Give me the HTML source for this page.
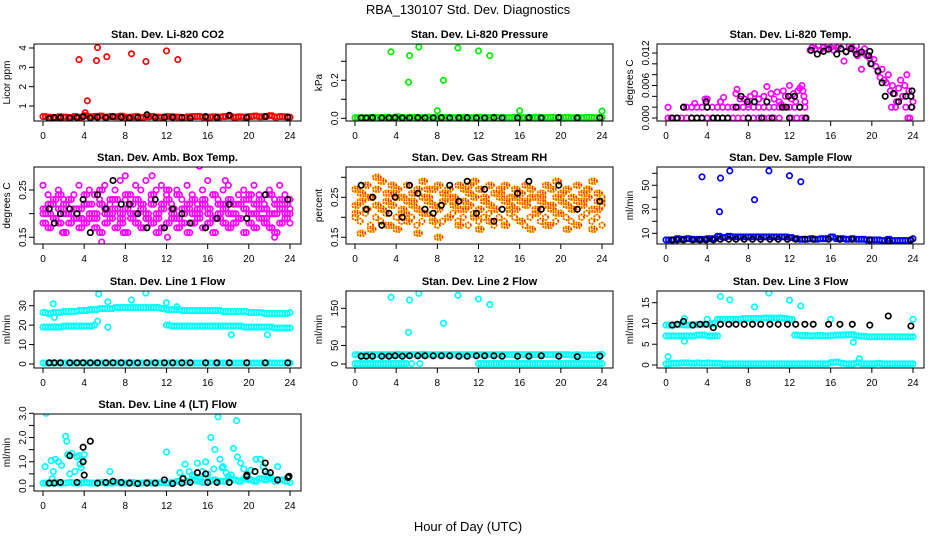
<!DOCTYPE html>
<html><head><meta charset="utf-8">
<style>
html,body{margin:0;padding:0;background:#fff;}
svg{display:block;font-family:"Liberation Sans",Arial,sans-serif;}
</style></head>
<body>
<svg id="chart" width="936" height="540" viewBox="0 0 936 540" xmlns="http://www.w3.org/2000/svg">
<text x="468" y="14" text-anchor="middle" font-size="13">RBA_130107  Std. Dev. Diagnostics</text>
<text x="468" y="531" text-anchor="middle" font-size="13">Hour of Day (UTC)</text>
</svg>
<script>
// ---------- shared hours ----------
const H49 = [0,0.5,1,1.5,2,2.5,3,3.5,4,4.5,5,5.5,6,6.5,7,7.5,8,8.5,9,9.5,10,10.5,11,11.5,12,12.5,13,13.5,14,14.5,15,15.5,16,16.5,17,17.5,18,18.5,19,19.5,20,20.5,21,21.5,22,22.5,23,23.5,24];
const H48m = [0.25,0.75,1.25,1.75,2.25,2.75,3.25,3.75,4.25,4.75,5.25,5.75,6.25,6.75,7.25,7.75,8.25,8.75,9.25,9.75,10.25,10.75,11.25,11.75,12.25,12.75,13.25,13.75,14.25,14.75,15.25,15.75,16.25,16.75,17.25,17.75,18.25,18.75,19.25,19.75,20.25,20.75,21.25,21.75,22.25,22.75,23.25,23.75];
const H25 = [0.6,1.1,1.7,2.6,3.3,3.9,4.6,5.3,6.1,6.8,7.6,8.4,9.2,10.1,10.9,11.8,12.6,13.5,14.3,15.8,16.9,18.1,19.8,21.6,23.8];
const HA = [0,0.5,1,1.5,2,2.5,3,3.5,4,4.5,5];
const HA2 = [0.25,0.75,1.25,1.75,2.25,2.75,3.25,3.75,4.25,4.75];
const HB = [12,12.5,13,13.5,14,14.5,15,15.5,16,16.5,17,17.5,18,18.5,19,19.5,20,20.5,21,21.5,22,22.5,23,23.5,24];
const HB2 = [12.25,12.75,13.25,13.75,14.25,14.75,15.25,15.75,16.25,16.75,17.25,17.75,18.25,18.75,19.25,19.75,20.25,20.75,21.25,21.75,22.25,22.75,23.25,23.75];
const xTicks = [0,4,8,12,16,20,24];

// ---------- panel 1: CO2 ----------
const co2Red = [0.45,0.42,0.4,0.44,0.43,0.41,0.45,0.42,0.5,0.44,0.46,0.48,0.43,0.45,0.44,0.47,0.42,0.43,0.45,0.41,0.44,0.46,0.43,0.42,0.45,0.44,0.43,0.41,0.44,0.45,0.46,0.43,0.42,0.44,0.43,0.45,0.47,0.42,0.44,0.43,0.45,0.48,0.44,0.46,0.5,0.43,0.45,0.44,0.42];
const co2OutX = [3.5,4.1,4.3,5.2,5.3,6.2,8.6,10,12,13.1];
const co2OutY = [3.4,0.65,1.27,3.35,4.02,3.55,3.7,3.3,3.85,3.4];
const co2Black = [0.35,0.4,0.4,0.38,0.4,0.45,0.38,0.42,0.4,0.45,0.42,0.38,0.4,0.55,0.4,0.42,0.42,0.4,0.38,0.45,0.4,0.52,0.4,0.45,0.42];
// ---------- panel 2: pressure ----------
const presGreen = [0.003,0.004,0.002,0.005,0.003,0.004,0.006,0.003,0.008,0.004,0.003,0.005,0.004,0.003,0.006,0.004,0.003,0.005,0.004,0.003,0.004,0.005,0.003,0.004,0.006,0.003,0.004,0.005,0.003,0.004,0.003,0.005,0.004,0.003,0.004,0.006,0.003,0.004,0.005,0.003,0.004,0.005,0.003,0.004,0.003,0.005,0.004,0.003,0.004];
const presOutX = [3.5,5.2,5.3,6.2,8,8.6,10,12,13.1,16,24];
const presOutY = [0.35,0.19,0.33,0.375,0.04,0.2,0.37,0.355,0.33,0.04,0.038];
const presBlack = [0.002,0.002,0.003,0.002,0.002,0.003,0.002,0.002,0.003,0.002,0.002,0.003,0.002,0.002,0.003,0.002,0.002,0.003,0.002,0.002,0.003,0.002,0.004,0.002,0.002];
// ---------- panel 3: Li-820 temp ----------
const tempZeroX = [0.2,0.5,1,1.5,2,2.5,3,3.5,4,4.5,5,5.5,6,6.5,7,7.5,8,8.5,9,9.5,10,10.5,11,12.2,12.7,13.2,13.5];
const tempZeroY = [0,0,0,0,0,0,0,0,0,0,0,0,0,0,0,0,0,0,0,0,0,0,0,0,0,0,0];
const tempTwoX = [1.7,2,2.5,3,3.5,4,4.5,5,5.5,6,6.5,7,7.5,8,8.5,9,9.5,10,10.5,11,11.5,12,12.5,13,13.5];
const tempTwoY = [0.002,0.002,0.002,0.002,0.002,0.002,0.002,0.002,0.002,0.002,0.002,0.002,0.002,0.002,0.002,0.002,0.002,0.002,0.002,0.002,0.002,0.002,0.002,0.002,0.002];
const tempMagX = [0.2,2.8,3.8,4,5.3,5.6,6.8,6.9,7.2,7.6,8.2,8.6,9,9.5,9.8,10.2,10.5,10.8,11,11.4,11.6,12,12.2,12.4,12.8,13,13.2,13.4,13.5,13.3,12.6,11.2,8,14,14.2,14.5,14.8,15,15.3,15.6,15.8,16,16.3,16.6,16.8,17,17.3,17.5,17.8,18,18.3,18.5,18.6,18.8,19,19.2,19.3,19.5,19.8,20,20.2,20.4,20.6,20.8,21,21.2,21.4,21.6,21.8,22,22.2,22.4,22.6,22.8,23,23.2,23.4,23.6,23.8,24,23.5,23.7,21.9,22.3,23.3,23.9];
const tempMagY = [0.002,0.0027,0.0035,0.0035,0.003,0.0038,0.0045,0.0053,0.0035,0.0035,0.004,0.0045,0.0035,0.004,0.0058,0.0045,0.0035,0.0048,0.003,0.005,0.004,0.006,0.0035,0.0045,0.005,0.0055,0.006,0.004,0.003,0.005,0.003,0.0025,0.0025,0.0125,0.013,0.0128,0.0133,0.0125,0.013,0.0128,0.0133,0.013,0.0125,0.013,0.0133,0.0128,0.0105,0.0123,0.0133,0.013,0.0125,0.0133,0.0115,0.012,0.009,0.012,0.0128,0.0115,0.011,0.01,0.0108,0.0095,0.0085,0.0075,0.009,0.007,0.0065,0.008,0.005,0.006,0.0045,0.003,0.0055,0.007,0.004,0.006,0.008,0.005,0.004,0.003,0,0,0.002,0.002,0.002,0.002];
const tempBlkX = [0.6,1.1,1.7,2.5,3,3.5,3.9,4,4.6,5,5.5,6,6.8,7.3,7.9,8,8.6,9.3,9.8,10.3,11.3,11.7,11.9,12,12.5,13,13.6,14.1,14.7,15.3,15.8,16.6,17,17.5,18,18.5,19,19.7,19.8,19.9,20.6,21,21.3,22.1,22.6,23.3,23.8,23.9,23.85];
const tempBlkY = [0,0,0.002,0,0,0,0.003,0.002,0,0,0,0,0.002,0.004,0.003,0,0.003,0,0.003,0,0.002,0.002,0.004,0,0.004,0.002,0,0.0125,0.0118,0.0123,0.0127,0.0118,0.0128,0.0122,0.0128,0.0118,0.0122,0.0115,0.0123,0.01,0.0087,0.0065,0.004,0.0045,0.003,0.004,0.004,0.005,0.002];
// ---------- panel 4: amb box temp ----------
const ambA = [0.26,0.24,0.22,0.25,0.23,0.21,0.24,0.26,0.22,0.25,0.24,0.23,0.26,0.22,0.25,0.27,0.23,0.24,0.26,0.25,0.27,0.23,0.25,0.26,0.24,0.22,0.25,0.23,0.26,0.24,0.22,0.25,0.27,0.24,0.23,0.25,0.26,0.22,0.24,0.25,0.23,0.26,0.24,0.22,0.25,0.23,0.26,0.24,0.23];
const ambB = [0.2,0.22,0.19,0.21,0.2,0.23,0.19,0.21,0.22,0.2,0.19,0.22,0.21,0.2,0.23,0.19,0.21,0.22,0.2,0.21,0.19,0.22,0.2,0.21,0.23,0.2,0.19,0.21,0.22,0.2,0.21,0.23,0.2,0.19,0.22,0.21,0.2,0.22,0.19,0.21,0.2,0.22,0.21,0.19,0.2,0.22,0.21,0.2,0.21];
const ambC = [0.18,0.17,0.19,0.18,0.16,0.18,0.19,0.17,0.18,0.19,0.17,0.16,0.18,0.19,0.17,0.18,0.16,0.19,0.18,0.17,0.19,0.18,0.16,0.17,0.18,0.19,0.17,0.18,0.16,0.18,0.19,0.17,0.18,0.16,0.19,0.18,0.17,0.18,0.19,0.16,0.18,0.17,0.19,0.18,0.17,0.16,0.18,0.19,0.18];
const ambD = [0.21,0.2,0.23,0.24,0.22,0.2,0.21,0.19,0.24,0.22,0.2,0.25,0.2,0.23,0.21,0.2,0.24,0.2,0.23,0.22,0.2,0.24,0.19,0.22,0.25,0.21,0.24,0.2,0.21,0.23,0.2,0.22,0.21,0.24,0.2,0.22,0.23,0.2,0.22,0.23,0.24,0.2,0.23,0.21,0.24,0.2,0.23,0.22,0.2];
const ambBlk = [0.21,0.18,0.2,0.21,0.2,0.23,0.16,0.24,0.21,0.27,0.22,0.22,0.2,0.17,0.23,0.17,0.21,0.2,0.18,0.17,0.19,0.22,0.19,0.24,0.23];
const ambOutX = [15.2,7.8,3.8,5.7,1.9,10.6,17.7,8,12.1,22.5];
const ambOutY = [0.3,0.16,0.19,0.14,0.16,0.28,0.27,0.28,0.15,0.15];
// ---------- panel 5: gas stream RH ----------
const rhA = [0.27,0.26,0.28,0.25,0.27,0.29,0.26,0.28,0.27,0.25,0.28,0.26,0.27,0.29,0.25,0.27,0.28,0.26,0.27,0.25,0.28,0.27,0.26,0.29,0.27,0.25,0.28,0.26,0.27,0.28,0.25,0.27,0.26,0.28,0.27,0.25,0.26,0.28,0.27,0.29,0.26,0.27,0.25,0.28,0.26,0.27,0.29,0.26,0.25];
const rhB = [0.23,0.24,0.22,0.25,0.23,0.22,0.24,0.23,0.25,0.22,0.24,0.23,0.22,0.25,0.24,0.23,0.22,0.24,0.25,0.23,0.22,0.24,0.23,0.25,0.22,0.24,0.23,0.22,0.25,0.24,0.23,0.22,0.24,0.23,0.25,0.22,0.24,0.23,0.22,0.25,0.24,0.23,0.22,0.24,0.23,0.25,0.22,0.24,0.23];
const rhC = [0.2,0.19,0.21,0.18,0.2,0.19,0.21,0.18,0.2,0.19,0.21,0.2,0.18,0.19,0.21,0.2,0.18,0.19,0.2,0.21,0.19,0.2,0.18,0.21,0.19,0.2,0.21,0.18,0.2,0.19,0.21,0.2,0.19,0.18,0.2,0.21,0.19,0.2,0.18,0.19,0.21,0.2,0.19,0.18,0.2,0.21,0.19,0.2,0.18];
const rhD = [0.21,0.16,0.25,0.17,0.3,0.22,0.18,0.26,0.17,0.21,0.19,0.24,0.16,0.21,0.27,0.19,0.15,0.26,0.2,0.24,0.18,0.22,0.28,0.2,0.17,0.24,0.19,0.22,0.26,0.18,0.22,0.25,0.19,0.24,0.17,0.21,0.25,0.18,0.23,0.21,0.26,0.17,0.22,0.18,0.24,0.27,0.17,0.22,0.24];
const rhBlk = [0.28,0.22,0.25,0.18,0.21,0.25,0.2,0.28,0.26,0.22,0.21,0.23,0.28,0.24,0.29,0.21,0.27,0.19,0.22,0.26,0.29,0.22,0.28,0.22,0.24];
// ---------- panel 6: sample flow ----------
const sfBlue = [4.5,4.5,5.5,5,5.5,5,5,5,5.5,5.5,7.5,6.5,7.5,7,7,7,7,7,7,7,7,7,7,7,6.5,5.5,5,5,5.5,5,5.5,5.5,7,5.5,5.5,5,5.5,5,5,4.5,4.5,4.5,4,5,4,4,4,4,5.5];
const sfOutX = [3.5,5.2,5.3,6.2,8.6,10,12,13.1];
const sfOutY = [57,28,56,62,38,62,58,53];
const sfBlack = [4.5,4.5,4.5,4.5,4.5,4.5,4.5,5,5,5,5,5,5,5,5,5,5,5,5,5,5,5,4.5,3.5,4.5];
// ---------- panel 7: line 1 flow ----------
const l1Top = [26.5,26,26.5,26.5,27,27,27,27.5,27.5,28,28,28.5,28.5,28.5,29,29,29,29,29,29,29,29,29,28.5,28,28,28,27.5,27.5,27.5,27.5,27.5,27.5,27.5,27.5,27,27,27,27,27,26.5,26.5,26.5,26,26,26,26,26,26.5];
const l1MidA = [19,19,19,19,19.5,19.5,19.5,19.5,19.5,19.5,20];
const l1MidB = [20,19.5,19.5,19.5,19.5,19.5,19.5,19.5,19.5,19.5,19.5,19.5,19.5,19.5,19.5,19,19,19,19,19,19,18.5,18.5,18.5,18.5];
const l1Zero = [0.5,0.5,0.5,0.5,0.5,0.5,0.5,0.5,0.5,0.5,0.5,0.5,0.5,0.5,0.5,0.5,0.5,0.5,0.5,0.5,0.5,0.5,0.5,0.5,0.5,0.5,0.5,0.5,0.5,0.5,0.5,0.5,0.5,0.5,0.5,0.5,0.5,0.5,0.5,0.5,0.5,0.5,0.5,0.5,0.5,0.5,0.5,0.5,0.5];
const l1OutX = [1,1.1,5.3,5.4,6.3,6.3,8.6,10,12,13,18.3,21.8];
const l1OutY = [31,24,22,36,32,19,33,36.5,31.5,29.5,15,15];
const l1Black = [0.6,0.6,0.6,0.6,0.6,0.6,0.6,0.6,0.6,0.6,0.6,0.6,0.6,0.6,0.6,0.6,0.6,0.6,0.6,0.6,0.6,0.6,0.6,0.6,0.6];
// ---------- panel 8: line 2 flow ----------
const l2Base = [25,24,25,25,25,25,25,25,26,25,25,25,25,26,25,25,25,25,25,25,25,25,25,25,25,25,25,25,25,25,25,25,25,25,25,25,25,25,25,25,25,25,24,25,24,24,24,25,26];
const l2ZeroA = [1,1,1,1,1,1,1,1,1,1,1];
const l2ZeroB = [1,1,1,1,1,1,1,1,1,1,1,1,1,1,1,1,1,1,1,1,1,1,1,1,1];
const l2OutX = [3.5,5.2,5.3,5.5,6.2,6.3,8.6,10,12,13.1];
const l2OutY = [180,85,172,1,190,1,110,185,175,160];
const l2Black = [21,21,21,21,21,22,21,22,22,22,22,22,22,21,21,22,22,22,21,21,21,22,21,20,21];
// ---------- panel 9: line 3 flow ----------
const l3A = [9.6,9.6,9.7,9.7,9.6,9.7,9.7,9.8,9.8,10,11,11,11,11,11,11.2,11.2,11.2,11.2,11.3,11.3,11.3,11.3,11.2,11,7.2,7.1,7.1,7,7.1,7.1,7,7.1,7.2,7.2,7.3,7.3,7,6.9,6.8,6.8,6.8,6.8,6.8,6.8,6.8,6.8,6.8,6.8];
const l3B = [7,7,7,7,7,7,7.2,7.2,7,7,7];
const l3Zero = [0.3,0.4,0.4,0.5,0.5,0.4,0.5,0.4,0.5,0.4,0.4,0.3,0.3,0.3,0.3,0.3,0.3,0.3,0.3,0.3,0.3,0.3,0.3,0.3,0.3,0.3,0.3,0.3,0.3,0.3,0.3,0.3,0.6,0.7,0.4,0.3,0.3,0.5,0.3,0.3,0.3,0.4,0.3,0.3,0.3,0.3,0.3,0.3,0.3];
const l3OutX = [5.3,6.2,8.6,10,12,13.1,4,1.8,1.8,18.2,0.2,24,16,18.8];
const l3OutY = [16.5,15.7,14,17.3,15.6,14.2,11,11.2,5.7,5.5,2,11,11,1.5];
const l3Black = [9.6,9.8,10.5,9.6,9.8,9.8,9,9.8,9.8,9.8,9.8,9.8,9.8,9.8,9.8,9.8,9.8,9.8,9.8,9.8,9.8,9.8,9.6,11.8,9.4];
// ---------- panel 10: line 4 flow ----------
const l4Base = [0.12,0.12,0.15,0.12,0.12,0.15,0.12,0.12,0.15,0.12,0.12,0.15,0.12,0.12,0.15,0.12,0.12,0.15,0.12,0.12,0.15,0.12,0.12,0.15,0.12,0.15,0.2,0.15,0.2,0.25,0.2,0.15,0.2,0.25,0.2,0.2,0.3,0.25,0.2,0.3,0.25,0.2,0.3,0.25,0.3,0.2,0.25,0.2,0.15];
const l4OutX = [0.2,0.3,0.8,1,1.2,1.5,1.8,2.2,2.3,2.4,2.8,3.1,3.3,3.5,3.7,3.9,4,0.9,2.6,3.6,6.5,12,13.3,13.8,14.2,14.7,15,15.5,15.8,16,16.3,16.7,17,17.2,17.5,17.8,18,18.5,18.8,18.9,19.2,19.5,20.2,20.7,21.1,21.4,21.9,22.8,13.6,16.6,18.3,20,21.8,14.5,15.3,17.4];
const l4OutY = [0.8,3,1.05,0.6,1.1,1,0.85,2.05,1.85,1.3,1.35,0.6,1.2,1.25,0.75,1.05,1.3,0.3,0.5,0.9,0.6,1.4,0.55,0.9,0.6,0.4,0.95,0.6,1.0,0.5,2.0,1.5,2.85,1.1,0.8,0.55,0.4,1.55,2.7,1.2,0.95,0.7,0.65,1.1,1.1,0.8,0.4,0.8,0.35,0.7,0.45,0.3,0.5,0.45,0.3,0.75];
const l4Black = [0.12,0.12,0.15,1.25,0.15,1.6,1.85,0.12,0.15,0.2,0.15,0.12,0.1,0.12,0.12,0.25,0.1,0.12,0.15,0.5,0.15,0.15,0.4,0.6,0.35];
const l4BlkX = [3.9,4,16,21.6,22.1,20.6,15,13.6,19.8,22.8,23.9];
const l4BlkY = [1.0,0.45,0.15,0.95,0.55,0.6,0.55,0.3,0.45,0.25,0.4];

// ---------- layout ----------
const svg = document.getElementById('chart');
const NS = 'http://www.w3.org/2000/svg';
const colL = [34, 346, 657];
const rowT = [44, 167, 291, 414];
const BW = 267, BH = 77;

function mk(tag, attrs, parent){
  const e = document.createElementNS(NS, tag);
  for (const k in attrs) e.setAttribute(k, attrs[k]);
  (parent||svg).appendChild(e);
  return e;
}
const RY = '#ffd000', RR = '#ff1000';
const panels = [
 {title:'Stan. Dev. Li-820 CO2', yl:'Licor ppm', c:0,r:0, a:[1,106], b:[4,48], ticks:[1,2,3,4], labs:['1','2','3','4'],
  series:[[H49,co2Red,'#ff0000'],[H48m,co2Red,'#ff0000'],[co2OutX,co2OutY,'#ff0000'],[H25,co2Black,'#000000']]},
 {title:'Stan. Dev. Li-820 Pressure', yl:'kPa', c:1,r:0, a:[0,118.3], b:[0.2,80.3], ticks:[0,0.1,0.2,0.3], labs:['0.0','','0.2',''],
  series:[[H49,presGreen,'#00ee00'],[H48m,presGreen,'#00ee00'],[H25,presBlack,'#000000'],[presOutX,presOutY,'#00ee00']]},
 {title:'Stan. Dev. Li-820 Temp.', yl:'degrees C', c:2,r:0, a:[0,118], b:[0.012,53], ticks:[0,0.002,0.004,0.006,0.008,0.01,0.012], labs:['0.000','','','0.006','','','0.012'],
  series:[[tempZeroX,tempZeroY,'#ff00ff'],[tempTwoX,tempTwoY,'#ff00ff'],[tempMagX,tempMagY,'#ff00ff'],[tempBlkX,tempBlkY,'#000000']]},
 {title:'Stan. Dev. Amb. Box Temp.', yl:'degrees C', c:0,r:1, a:[0.15,237.3], b:[0.25,190], ticks:[0.15,0.2,0.25], labs:['0.15','','0.25'],
  series:[[H49,ambA,'#ff00ff'],[H49,ambB,'#ff00ff'],[H49,ambC,'#ff00ff'],[H49,ambD,'#ff00ff'],[H48m,ambD,'#ff00ff'],[H48m,ambC,'#ff00ff'],[H48m,ambB,'#ff00ff'],[H25,ambBlk,'#000000'],[ambOutX,ambOutY,'#ff00ff']]},
 {title:'Stan. Dev. Gas Stream RH', yl:'percent', c:1,r:1, a:[0.15,237.3], b:[0.25,197.3], ticks:[0.15,0.2,0.25,0.3], labs:['0.15','','0.25',''],
  series:[[H49,rhA,RY,RR],[H49,rhB,RY,RR],[H49,rhC,RY,RR],[H49,rhD,RY,RR],[H48m,rhD,RY,RR],[H48m,rhB,RY,RR],[H48m,rhA,RY,RR],[H25,rhBlk,'#000000']]},
 {title:'Stan. Dev. Sample Flow', yl:'ml/min', c:2,r:1, a:[10,233.3], b:[30,209.3], ticks:[10,20,30,40,50,60], labs:['10','','30','','50',''],
  series:[[H49,sfBlue,'#0000ff'],[H48m,sfBlue,'#0000ff'],[sfOutX,sfOutY,'#0000ff'],[H25,sfBlack,'#000000']]},
 {title:'Stan. Dev. Line 1 Flow', yl:'ml/min', c:0,r:2, a:[0,364], b:[30,305.7], ticks:[0,10,20,30], labs:['0','10','20','30'],
  series:[[H49,l1Top,'#00ffff'],[H48m,l1Top,'#00ffff'],[HA,l1MidA,'#00ffff'],[HA2,l1MidA,'#00ffff'],[HB,l1MidB,'#00ffff'],[HB2,l1MidB,'#00ffff'],[H49,l1Zero,'#00ffff'],[H48m,l1Zero,'#00ffff'],[l1OutX,l1OutY,'#00ffff'],[H25,l1Black,'#000000']]},
 {title:'Stan. Dev. Line 2 Flow', yl:'ml/min', c:1,r:2, a:[0,364], b:[150,308.3], ticks:[0,50,100,150], labs:['0','50','','150'],
  series:[[H49,l2Base,'#00ffff'],[H48m,l2Base,'#00ffff'],[HA,l2ZeroA,'#00ffff'],[HA2,l2ZeroA,'#00ffff'],[HB,l2ZeroB,'#00ffff'],[HB2,l2ZeroB,'#00ffff'],[l2OutX,l2OutY,'#00ffff'],[H25,l2Black,'#000000']]},
 {title:'Stan. Dev. Line 3 Flow', yl:'ml/min', c:2,r:2, a:[0,365], b:[15,302.7], ticks:[0,5,10,15], labs:['0','5','10','15'],
  series:[[H49,l3A,'#00ffff'],[H48m,l3A,'#00ffff'],[HA,l3B,'#00ffff'],[HA2,l3B,'#00ffff'],[H49,l3Zero,'#00ffff'],[H48m,l3Zero,'#00ffff'],[l3OutX,l3OutY,'#00ffff'],[H25,l3Black,'#000000']]},
 {title:'Stan. Dev. Line 4 (LT) Flow', yl:'ml/min', c:0,r:3, a:[0,486], b:[3,413.3], ticks:[0,0.5,1,1.5,2,2.5,3], labs:['0.0','','1.0','','2.0','','3.0'],
  series:[[H49,l4Base,'#00ffff'],[H48m,l4Base,'#00ffff'],[l4OutX,l4OutY,'#00ffff'],[H25,l4Black,'#000000'],[l4BlkX,l4BlkY,'#000000']]}
];

panels.forEach(function(p, i){
  const L = colL[p.c], T = rowT[p.r];
  const slug = p.title.replace('Stan. Dev. ','').toLowerCase().replace(/[^a-z0-9]+/g,'-').replace(/-+$/,'');
  const g = mk('g', {});
  
  
  const xs = function(v){ return L + 9 + v * 247 / 24; };
  const ys = function(v){ return p.a[1] + (v - p.a[0]) * (p.b[1] - p.a[1]) / (p.b[0] - p.a[0]); };
  const cp = mk('clipPath', {id:'clip'+i}, g);
  mk('rect', {x:L, y:T, width:BW, height:BH}, cp);
  const t = mk('text', {x:L+BW/2, y:T-6, 'text-anchor':'middle', 'font-size':'11', 'font-weight':'bold'}, g);
  t.textContent = p.title;
  
  
  const yt = mk('text', {transform:'translate('+(L-24)+','+(T+BH/2)+') rotate(-90)', 'text-anchor':'middle', 'font-size':'10'}, g);
  yt.textContent = p.yl;
  
  
  const xa = mk('g', {}, g);
  
  
  xTicks.forEach(function(v){
    const x = xs(v);
    mk('line', {x1:x, x2:x, y1:T+BH, y2:T+BH+5, stroke:'#000', 'stroke-width':1}, xa);
    const tl = mk('text', {x:x, y:T+BH+18, 'text-anchor':'middle', 'font-size':'10'}, xa);
    tl.textContent = String(v);
    
    
  });
  const ya = mk('g', {}, g);
  
  
  p.ticks.forEach(function(v, k){
    const y = ys(v);
    mk('line', {x1:L-5, x2:L, y1:y, y2:y, stroke:'#000', 'stroke-width':1}, ya);
    if (p.labs[k]) {
      const tl = mk('text', {transform:'translate('+(L-8)+','+y+') rotate(-90)', 'text-anchor':'middle', 'font-size':'10'}, ya);
      tl.textContent = p.labs[k];
      
      
    }
  });
  const pts = mk('g', {'clip-path':'url(#clip'+i+')'}, g);
  
  
  p.series.forEach(function(s){
    const X = s[0], Y = s[1];
    for (let j = 0; j < X.length && j < Y.length; j++) {
      const c = mk('circle', {cx:xs(X[j]).toFixed(1), cy:ys(Y[j]).toFixed(1), r:2.7, fill:'none', stroke:s[2], 'stroke-width':1.7}, pts);
      
      
      if (s[3]) {
        const c2 = mk('circle', {cx:c.getAttribute('cx'), cy:c.getAttribute('cy'), r:2.7, fill:'none', stroke:s[3], 'stroke-width':1.7, 'stroke-dasharray':'1 2'}, pts);
        
        
      }
    }
  });
  const bx = mk('rect', {x:L, y:T, width:BW, height:BH, fill:'none', stroke:'#000', 'stroke-width':1}, g);
  
  
});
</script>
</body></html>
